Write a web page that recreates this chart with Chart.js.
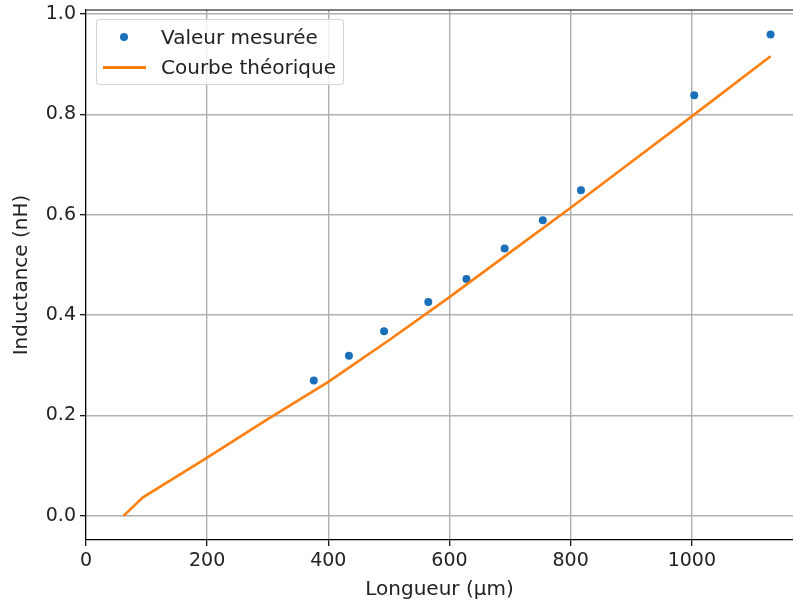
<!DOCTYPE html>
<html>
<head>
<meta charset="utf-8">
<script src="https://cdn.jsdelivr.net/npm/chart.js@4.4.0/dist/chart.umd.min.js"></script>
<style>
  body { margin: 0; background: #fff; }
  .wrap { position: relative; width: 793px; height: 602px; }
  .legend {
    position: absolute; left: 96px; top: 19px; width: 246px; height: 64px;
    border: 1px solid rgba(204,204,204,0.8); border-radius: 4px;
    background: rgba(255,255,255,0.8);
    font-family: "DejaVu Sans", sans-serif; font-size: 20px; color: #222;
  }
  .legend .row { position: absolute; left: 0; height: 24px; line-height: 24px; }
  .legend .txt { position: absolute; left: 64px; white-space: nowrap; }
  .legend .dot { position: absolute; left: 23px; top: 8px; width: 8px; height: 8px; border-radius: 50%; background: #1a6fbb; }
  .legend .ln { position: absolute; left: 6px; top: 11px; width: 43px; height: 3px; background: #ff7f0e; }
</style>
</head>
<body>
<div class="wrap">
  <canvas id="chart" width="793" height="602"></canvas>
  <div class="legend">
    <div class="row" style="top:5px"><span class="dot"></span><span class="txt">Valeur mesurée</span></div>
    <div class="row" style="top:35px"><span class="ln"></span><span class="txt">Courbe théorique</span></div>
  </div>
</div>
<script>
// measured points
const measuredX = [376, 434, 492, 565, 628, 691, 754, 817, 1004, 1130];
const measuredY = [0.270, 0.319, 0.368, 0.426, 0.472, 0.533, 0.589, 0.649, 0.838, 0.959];
// theoretical curve
const theoryX = [62, 94, 200, 300, 400, 500, 600, 700, 800, 900, 1000, 1130];
const theoryY = [0.0, 0.037, 0.116, 0.193, 0.267, 0.350, 0.436, 0.525, 0.614, 0.705, 0.796, 0.916];
// tick labels
const xTicks = [0, 200, 400, 600, 800, 1000];
const yTicks = [0.0, 0.2, 0.4, 0.6, 0.8, 1.0];

const tickFont = { family: "'DejaVu Sans', sans-serif", size: 19 };
const titleFont = { family: "'DejaVu Sans', sans-serif", size: 20 };
Chart.defaults.color = '#222';

const topSpine = {
  id: 'topSpine',
  afterDraw(chart) {
    const { ctx, chartArea } = chart;
    ctx.save();
    ctx.strokeStyle = '#000';
    ctx.lineWidth = 1.2;
    ctx.beginPath();
    ctx.moveTo(chartArea.left, chartArea.top);
    ctx.lineTo(chartArea.right, chartArea.top);
    ctx.stroke();
    ctx.restore();
  }
};

function noPad(s) {
  s.paddingTop = 0;
  s.paddingBottom = 0;
  s.paddingLeft = 0;
  s.paddingRight = 0;
}

new Chart(document.getElementById('chart').getContext('2d'), {
  type: 'scatter',
  data: {
    datasets: [
      {
        label: 'Valeur mesurée',
        data: measuredX.map((x, i) => ({ x: x, y: measuredY[i] })),
        backgroundColor: '#1a6fbb',
        borderColor: '#1a6fbb',
        pointRadius: 4,
        pointBorderWidth: 0,
        showLine: false,
        order: 2
      },
      {
        label: 'Courbe théorique',
        data: theoryX.map((x, i) => ({ x: x, y: theoryY[i] })),
        borderColor: '#ff7f0e',
        backgroundColor: '#ff7f0e',
        borderWidth: 2.6,
        pointRadius: 0,
        showLine: true,
        tension: 0,
        order: 1
      }
    ]
  },
  options: {
    responsive: false,
    animation: false,
    layout: { autoPadding: false, padding: { top: 10, right: 0, left: 0, bottom: 0 } },
    plugins: { legend: { display: false }, tooltip: { enabled: false } },
    scales: {
      x: {
        type: 'linear',
        min: 0,
        max: 1167,
        afterBuildTicks: s => { s.ticks = xTicks.map(v => ({ value: v })); },
        afterFit: s => { s.height = 62; noPad(s); },
        ticks: { font: tickFont, padding: 4, maxRotation: 0, callback: v => String(v) },
        grid: { color: '#b0b0b0', lineWidth: 1.4, tickColor: '#000', tickLength: 6, tickWidth: 1.2 },
        border: { color: '#000', width: 1.2 },
        title: { display: true, text: 'Longueur (μm)', font: titleFont, padding: { top: 0, bottom: 0 } }
      },
      y: {
        type: 'linear',
        min: -0.048,
        max: 1.008,
        afterBuildTicks: s => { s.ticks = yTicks.map(v => ({ value: v })); },
        afterFit: s => { s.width = 86; noPad(s); },
        ticks: { font: tickFont, padding: 4, callback: v => v.toFixed(1) },
        grid: { color: '#b0b0b0', lineWidth: 1.4, tickColor: '#000', tickLength: 6, tickWidth: 1.2 },
        border: { color: '#000', width: 1.2 },
        title: { display: true, text: 'Inductance (nH)', font: titleFont, padding: { top: 10, bottom: 0 } }
      }
    }
  },
  plugins: [topSpine]
});
</script>
</body>
</html>
